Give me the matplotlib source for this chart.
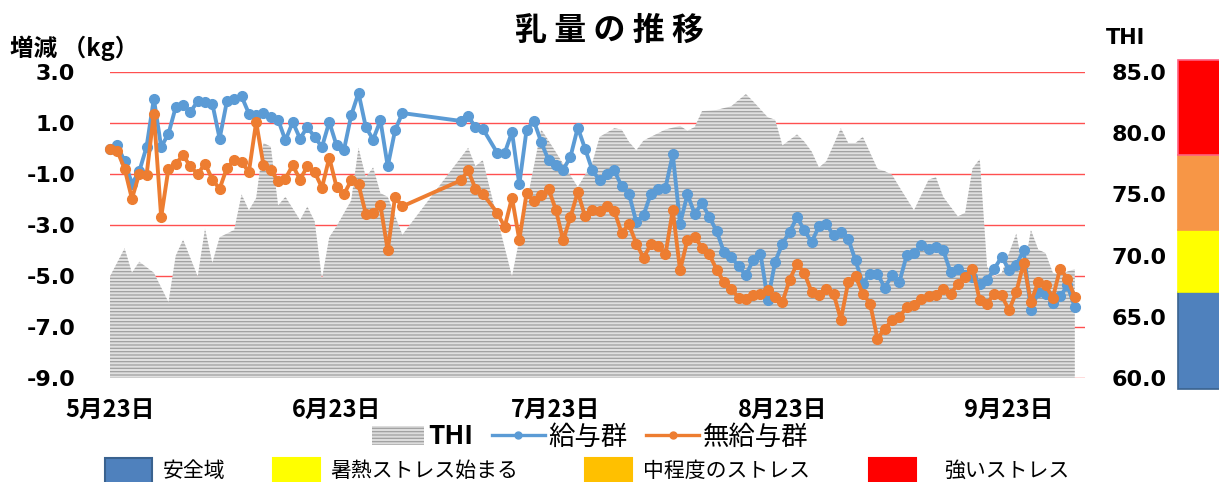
"""
乳量の推移: 給与群 / 無給与群 の乳量増減 (kg) と THI の推移。
出力: out.png
"""

import matplotlib

matplotlib.use("Agg")
import matplotlib.pyplot as plt
import pandas as pd
from matplotlib.lines import Line2D
from matplotlib.patches import Patch, Rectangle

OUTPUT_PLOT = "out.png"
FIG_W, FIG_H = 1219, 482

START = pd.Timestamp("2019-05-23")

# 乳量: 5/23 からの経過日数 (41-47日目, 52日目は欠測)
MILK_DAYS = list(range(0, 41)) + list(range(48, 52)) + list(range(53, 133))

FEED_GROUP = [
    0.0, 0.12, -0.5, -1.38, -0.9, 0.06, 1.95, 0.06, 0.58, 1.63,
    1.69, 1.43, 1.86, 1.82, 1.76, 0.39, 1.86, 1.95, 2.05, 1.37,
    1.30, 1.39, 1.24, 1.13, 0.32, 1.04, 0.39, 0.84, 0.45, 0.06,
    1.04, 0.12, -0.07, 1.30, 2.18, 0.84, 0.35, 1.10, -0.70, 0.71,
    1.39,
    1.08, 1.26, 0.84, 0.78,
    -0.18, -0.18, 0.65, -1.41, 0.74, 1.08, 0.25, -0.46, -0.66, -0.83,
    -0.33, 0.82, -0.01, -0.86, -1.25, -0.99, -0.86, -1.48, -1.77, -2.88,
    -2.62, -1.77, -1.58, -1.54, -0.23, -2.95, -1.80, -2.56, -2.14, -2.69,
    -3.24, -4.06, -4.25, -4.62, -4.97, -4.38, -4.12, -5.95, -4.45, -3.73,
    -3.27, -2.69, -3.21, -3.67, -3.05, -2.95, -3.41, -3.27, -3.54, -4.39,
    -5.30, -4.91, -4.91, -5.46, -4.97, -5.24, -4.19, -4.10, -3.80, -3.93,
    -3.86, -3.99, -4.84, -4.71, -4.95, -5.05, -5.30, -5.17, -4.71, -4.25,
    -4.75, -4.58, -3.99, -6.35, -5.63, -5.69, -6.06, -5.80, -5.37, -6.22,
]

NO_FEED_GROUP = [
    -0.01, -0.10, -0.79, -1.97, -0.99, -1.05, 1.37, -2.69, -0.79, -0.59,
    -0.27, -0.70, -1.01, -0.59, -1.22, -1.58, -0.75, -0.46, -0.53, -0.92,
    1.04, -0.66, -0.86, -1.27, -1.18, -0.66, -1.22, -0.70, -0.92, -1.54,
    -0.36, -1.51, -1.80, -1.25, -1.41, -2.56, -2.53, -2.23, -3.99, -1.90,
    -2.27,
    -1.25, -0.86, -1.58, -1.77,
    -2.53, -3.08, -1.93, -3.58, -1.75, -2.06, -1.84, -1.58, -2.40, -3.60,
    -2.69, -1.71, -2.66, -2.40, -2.45, -2.27, -2.45, -3.31, -2.97, -3.73,
    -4.28, -3.76, -3.84, -4.15, -2.42, -4.78, -3.58, -3.47, -3.89, -4.15,
    -4.75, -5.24, -5.50, -5.85, -5.89, -5.76, -5.69, -5.56, -5.82, -6.02,
    -5.14, -4.52, -4.88, -5.63, -5.76, -5.50, -5.69, -6.71, -5.24, -5.01,
    -5.69, -6.08, -7.46, -7.07, -6.74, -6.61, -6.22, -6.15, -5.89, -5.80,
    -5.76, -5.50, -5.69, -5.33, -5.04, -4.71, -5.95, -6.08, -5.69, -5.76,
    -6.35, -5.63, -4.49, -6.02, -5.24, -5.37, -5.85, -4.71, -5.10, -5.82,
]

# THI (面グラフの頂点)
THI_DAYS = [
    0, 2, 3, 4, 6, 8, 9, 10, 12, 13, 14, 15, 17, 18, 19, 20, 21, 22, 23, 24,
    26, 27, 28, 29, 30, 31, 33, 34, 35, 36, 37, 38, 40, 49, 50, 51, 53, 55, 59, 60,
    62, 64, 66, 67, 69, 70, 71, 72, 73, 74, 75, 76, 78, 79, 80, 81, 83, 85, 87, 88,
    90, 91, 92, 94, 95, 96, 97, 98, 100, 101, 102, 103, 105, 106, 107, 108, 110, 112, 113, 114,
    116, 117, 118, 119, 120, 121, 122, 124, 125, 126, 127, 128, 129, 130, 131, 132,
]
THI_VALUES = [
    68.3, 70.6, 68.6, 69.5, 68.6, 66.2, 70.0, 71.3, 68.3, 72.2,
    69.4, 71.5, 72.1, 75.0, 73.7, 74.7, 79.2, 78.9, 74.1, 74.8,
    72.9, 74.0, 72.8, 68.1, 71.5, 72.4, 74.5, 78.8, 76.4, 77.2,
    75.1, 74.8, 71.7, 78.8, 77.3, 77.8, 73.0, 68.3, 80.3, 79.4,
    77.5, 75.6, 77.6, 79.7, 80.4, 80.3, 79.3, 78.6, 79.4, 79.7,
    80.0, 80.3, 80.6, 80.2, 80.5, 81.8, 81.9, 82.2, 83.2, 82.6,
    81.3, 81.1, 79.0, 79.9, 79.3, 78.5, 77.2, 77.7, 80.4, 79.2,
    79.2, 79.7, 77.1, 76.9, 76.6, 75.6, 73.7, 76.2, 76.4, 74.8,
    73.2, 73.5, 77.1, 77.9, 69.1, 68.3, 68.6, 71.8, 68.6, 72.1,
    70.5, 70.2, 68.6, 68.4, 68.7, 68.9,
]

TICK_DAYS = [0, 31, 61, 92, 123]
TICK_LABELS = ["5月23日", "6月23日", "7月23日", "8月23日", "9月23日"]

KG_TICKS = [3.0, 1.0, -1.0, -3.0, -5.0, -7.0, -9.0]
THI_TICKS = [85.0, 80.0, 75.0, 70.0, 65.0, 60.0]

# THI ストレス区分 (右側のカラーバー)
ZONE_LOWER = [59.1, 67.0, 72.1, 78.2]
ZONE_UPPER = [67.0, 72.1, 78.2, 86.0]
ZONE_COLORS = ["#4f81bd", "#ffff00", "#f79646", "#ff0000"]
ZONE_EDGES = ["#3a628f", "#ffff00", "#f79646", "#ff6080"]

LEGEND_LABELS = ["安全域", "暑熱ストレス始まる", "中程度のストレス", "強いストレス"]
LEGEND_COLORS = ["#4f81bd", "#ffff00", "#ffc000", "#ff0000"]

BLUE = "#5b9bd5"
ORANGE = "#ed7d31"
GRID_RED = "#ff5050"

plt.rcParams["font.family"] = ["Noto Sans CJK JP", "DejaVu Sans"]
plt.rcParams["hatch.linewidth"] = 0.9


def fx(px):
    return px / FIG_W


def fy(py):
    return 1 - py / FIG_H


def to_dates(days):
    return START + pd.to_timedelta(days, unit="D")


def main():
    fig = plt.figure(figsize=(FIG_W / 100, FIG_H / 100), dpi=100)
    rect = [fx(110), fy(378), fx(1085) - fx(110), fy(72) - fy(378)]

    # 下層: kg 軸 (グリッド, 左目盛)
    ax = fig.add_axes(rect)
    ax.set_ylim(-9, 3)
    ax.set_yticks(KG_TICKS)
    ax.set_yticklabels([f"{v:.1f}" for v in KG_TICKS], fontweight="bold",
                       fontsize=16, family="DejaVu Sans")
    ax.grid(axis="y", color=GRID_RED, linewidth=1.0)
    ax.tick_params(axis="y", length=0, pad=25)

    xmin, xmax = to_dates([0, 133.4])
    ax.set_xlim(xmin, xmax)
    ax.set_xticks(to_dates(TICK_DAYS))
    ax.set_xticklabels(TICK_LABELS, fontweight="bold", fontsize=17)
    ax.tick_params(axis="x", length=0, pad=14)
    for sp in ax.spines.values():
        sp.set_visible(False)

    # 中層: THI 面グラフ
    ax2 = ax.twinx()
    ax2.set_ylim(60, 85)
    ax2.fill_between(to_dates(THI_DAYS), 60, THI_VALUES, facecolor="#e0e0e0",
                     edgecolor="#a0a0a0", hatch="-----", linewidth=0)
    ax2.set_yticks(THI_TICKS)
    ax2.set_yticklabels([f"{v:.1f}" for v in THI_TICKS], fontweight="bold",
                        fontsize=16, family="DejaVu Sans")
    ax2.tick_params(axis="y", length=0, pad=19)
    for sp in ax2.spines.values():
        sp.set_visible(False)

    # 上層: 乳量増減の折れ線
    ax3 = ax.twinx()
    ax3.set_ylim(-9, 3)
    ax3.set_yticks([])
    for sp in ax3.spines.values():
        sp.set_visible(False)
    milk_dates = to_dates(MILK_DAYS)
    ax3.plot(milk_dates, FEED_GROUP, color=BLUE, lw=2.8, marker="o", ms=7,
             clip_on=False)
    ax3.plot(milk_dates, NO_FEED_GROUP, color=ORANGE, lw=2.8, marker="o", ms=7,
             clip_on=False)

    # 右端の THI 区分バー
    axz = fig.add_axes([fx(1177), rect[1], 1 - fx(1177), rect[3]])
    axz.set_ylim(60, 85)
    axz.set_xlim(0, 1)
    axz.axis("off")
    for lo, hi, fc, ec in zip(ZONE_LOWER, ZONE_UPPER, ZONE_COLORS, ZONE_EDGES):
        axz.add_patch(Rectangle((0.02, lo), 1.5, hi - lo, facecolor=fc,
                                edgecolor=ec, lw=1.2, clip_on=False))

    # タイトル・軸ラベル
    fig.text(0.5, fy(31), "乳 量 の 推 移", ha="center", va="center",
             fontsize=23, fontweight="bold")
    fig.text(fx(10), fy(48), "増減 （kg）", ha="left", va="center",
             fontsize=17, fontweight="bold")
    fig.text(fx(1106), fy(38), "THI", ha="left", va="center",
             fontsize=15, fontweight="bold", family="DejaVu Sans")

    # 凡例 (系列)
    handles = [
        Patch(facecolor="#dcdcdc", edgecolor="#a0a0a0", hatch="-----", lw=0),
        Line2D([], [], color=BLUE, lw=2.4, marker="o", ms=5),
        Line2D([], [], color=ORANGE, lw=2.4, marker="o", ms=5),
    ]
    leg = fig.legend(handles, ["THI", "給与群", "無給与群"], loc="center",
                     bbox_to_anchor=(fx(590), fy(437)), ncol=3, frameon=False,
                     fontsize=19, handlelength=2.0, handletextpad=0.15,
                     columnspacing=0.7)
    leg.get_texts()[0].set_fontweight("bold")

    # 凡例 (THI 区分)
    box_x = [105, 273, 585, 869]
    text_x = [163, 330, 643, 944]
    for bx, tx, col, lab in zip(box_x, text_x, LEGEND_COLORS, LEGEND_LABELS):
        edge = "#3a628f" if col == "#4f81bd" else col
        fig.add_artist(Rectangle((fx(bx), fy(500)), fx(47), fy(458) - fy(500),
                                 facecolor=col, edgecolor=edge, lw=1.5,
                                 transform=fig.transFigure))
        fig.text(fx(tx), fy(471), lab, ha="left", va="center", fontsize=15)

    fig.savefig(OUTPUT_PLOT, dpi=100)
    plt.close(fig)


if __name__ == "__main__":
    main()
